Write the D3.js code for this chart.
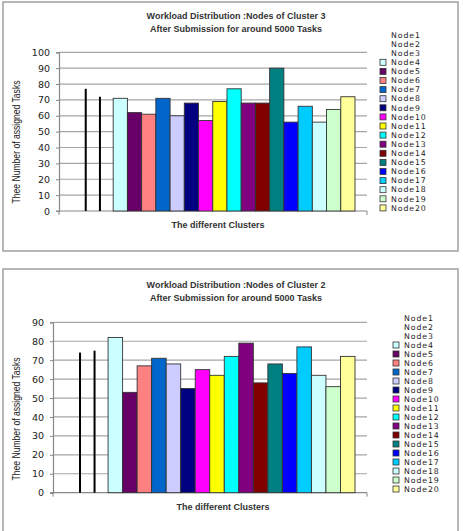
<!DOCTYPE html>
<html>
<head>
<meta charset="utf-8">
<script src="https://cdn.jsdelivr.net/npm/d3@7"></script>
<style>
  body { margin: 0; background: #fff; }
  svg { display: block; }
</style>
</head>
<body>
<div id="chart"></div>
<script>
var nodes = ["Node1","Node2","Node3","Node4","Node5","Node6","Node7","Node8","Node9","Node10",
             "Node11","Node12","Node13","Node14","Node15","Node16","Node17","Node18","Node19","Node20"];

// Node1/Node2 are drawn as thin black lines, Node3 is empty
var cluster3Tasks = [77,72,null,71,62,61,71,60,68,57,69,77,68,68,90,56,66,56,64,72];
var cluster2Tasks = [74,75,null,82,53,67,71,68,55,65,62,72,79,58,68,63,77,62,56,72];

var cluster3Ticks = [0,10,20,30,40,50,60,70,80,90,100];
var cluster2Ticks = [0,10,20,30,40,50,60,70,80,90];

var nodeColors = [null,null,null,"#ccffff","#660066","#ff8080","#0066cc","#ccccff","#000080","#ff00ff",
                  "#ffff00","#00ffff","#800080","#800000","#008080","#0000ff","#00ccff","#ccffff","#ccffcc","#ffff99"];

var svg = d3.select("#chart")
    .append("svg")
    .attr("width", 463)
    .attr("height", 531);

function drawChart(opt) {
    var g = svg.append("g");

    g.append("rect")
        .attr("x", opt.frame[0])
        .attr("y", opt.frame[1])
        .attr("width", opt.frame[2])
        .attr("height", opt.frame[3])
        .attr("fill", "#fff")
        .attr("stroke", "#a0a0a0")
        .attr("stroke-width", 1.5);

    var y = d3.scaleLinear()
        .domain([0, d3.max(opt.ticks)])
        .range([opt.bottom, opt.top]);

    var x = d3.scaleBand()
        .domain(nodes)
        .range([opt.left + 11.5, opt.right - 12])
        .paddingInner(0);

    // gridlines
    g.append("g")
        .selectAll("line")
        .data(opt.ticks.filter(d => d > 0))
        .enter()
        .append("line")
        .attr("x1", opt.left)
        .attr("x2", opt.right)
        .attr("y1", d => y(d))
        .attr("y2", d => y(d))
        .attr("stroke", "#a6a6a6")
        .attr("stroke-width", 1.2);

    var yAxis = g.append("g")
        .attr("transform", `translate(${opt.left},0)`)
        .call(d3.axisLeft(y).tickValues(opt.ticks).tickSize(3).tickPadding(6));
    yAxis.select(".domain").attr("stroke", "#888").attr("stroke-width", 1.2);
    yAxis.selectAll(".tick line").attr("stroke", "#888");
    yAxis.selectAll("text")
        .attr("font-family", "DejaVu Sans, sans-serif")
        .attr("font-size", "9.5px")
        .attr("fill", "#222");

    // category axis
    g.append("line")
        .attr("x1", opt.left - 3)
        .attr("x2", opt.right)
        .attr("y1", opt.bottom)
        .attr("y2", opt.bottom)
        .attr("stroke", "#888")
        .attr("stroke-width", 1.2);
    g.append("line")
        .attr("x1", opt.right)
        .attr("x2", opt.right)
        .attr("y1", opt.bottom)
        .attr("y2", opt.bottom + 4)
        .attr("stroke", "#888");
    g.append("line")
        .attr("x1", opt.left)
        .attr("x2", opt.left)
        .attr("y1", opt.bottom)
        .attr("y2", opt.bottom + 4)
        .attr("stroke", "#888");

    var rows = nodes.map((n, i) => ({ node: n, value: opt.values[i], color: nodeColors[i] }));

    // filled bars
    g.append("g")
        .selectAll("rect")
        .data(rows.filter(d => d.value != null && d.color))
        .enter()
        .append("rect")
        .attr("x", d => x(d.node))
        .attr("y", d => y(d.value))
        .attr("width", x.bandwidth())
        .attr("height", d => y(0) - y(d.value))
        .attr("fill", d => d.color)
        .attr("stroke", "#333")
        .attr("stroke-width", 0.9);

    // the unfilled series only show a black edge
    g.append("g")
        .selectAll("rect")
        .data(rows.filter(d => d.value != null && !d.color))
        .enter()
        .append("rect")
        .attr("x", d => x(d.node) + x.bandwidth())
        .attr("y", d => y(d.value))
        .attr("width", 2)
        .attr("height", d => y(0) - y(d.value))
        .attr("fill", "#000");

    // titles
    g.append("text")
        .attr("x", opt.titleX)
        .attr("y", opt.titleY)
        .attr("text-anchor", "middle")
        .attr("font-family", "Liberation Sans, Arial, sans-serif")
        .attr("font-weight", "bold")
        .attr("font-size", "9px")
        .attr("fill", "#333")
        .text(opt.title);
    g.append("text")
        .attr("x", opt.titleX)
        .attr("y", opt.titleY + 13)
        .attr("text-anchor", "middle")
        .attr("font-family", "Liberation Sans, Arial, sans-serif")
        .attr("font-weight", "bold")
        .attr("font-size", "9px")
        .attr("fill", "#333")
        .text("After Submission for around 5000 Tasks");

    g.append("text")
        .attr("x", opt.xLabelX)
        .attr("y", opt.bottom + 17)
        .attr("text-anchor", "middle")
        .attr("font-family", "Liberation Sans, Arial, sans-serif")
        .attr("font-weight", "bold")
        .attr("font-size", "9px")
        .attr("fill", "#333")
        .text("The different Clusters");

    g.append("text")
        .attr("transform", "rotate(-90)")
        .attr("x", -opt.yLabelY)
        .attr("y", 20)
        .attr("text-anchor", "middle")
        .attr("font-family", "Liberation Sans Narrow, Liberation Sans, Arial, sans-serif")
        .attr("font-size", "10px")
        .attr("textLength", 123)
        .attr("lengthAdjust", "spacingAndGlyphs")
        .attr("fill", "#222")
        .text("Thee Number of assigned Tasks");

    // legend
    var legend = g.append("g")
        .selectAll("g")
        .data(rows)
        .enter()
        .append("g")
        .attr("transform", (d, i) => `translate(${opt.legendX},${opt.legendY + i * opt.legendStep})`);
    legend.filter(d => d.color)
        .append("rect")
        .attr("x", -11)
        .attr("y", -3)
        .attr("width", 6)
        .attr("height", 6)
        .attr("fill", d => d.color)
        .attr("stroke", "#333")
        .attr("stroke-width", 0.8);
    legend.append("text")
        .attr("x", 0)
        .attr("dy", "0.35em")
        .attr("font-family", "DejaVu Sans, sans-serif")
        .attr("font-size", "7.8px")
        .attr("letter-spacing", "0.9px")
        .attr("fill", "#222")
        .text(d => d.node);
}

drawChart({
    frame: [3, 2, 455, 249],
    left: 59, right: 367, top: 52.3, bottom: 211,
    ticks: cluster3Ticks,
    values: cluster3Tasks,
    title: "Workload Distribution :Nodes of Cluster 3",
    titleX: 236, titleY: 19,
    xLabelX: 218, yLabelY: 142,
    legendX: 391, legendY: 35, legendStep: 9.1
});

drawChart({
    frame: [3, 269, 455, 270],
    left: 53, right: 367, top: 322.3, bottom: 492.7,
    ticks: cluster2Ticks,
    values: cluster2Tasks,
    title: "Workload Distribution :Nodes of Cluster 2",
    titleX: 236, titleY: 288,
    xLabelX: 223, yLabelY: 419,
    legendX: 404, legendY: 318, legendStep: 9.0
});
</script>
</body>
</html>
